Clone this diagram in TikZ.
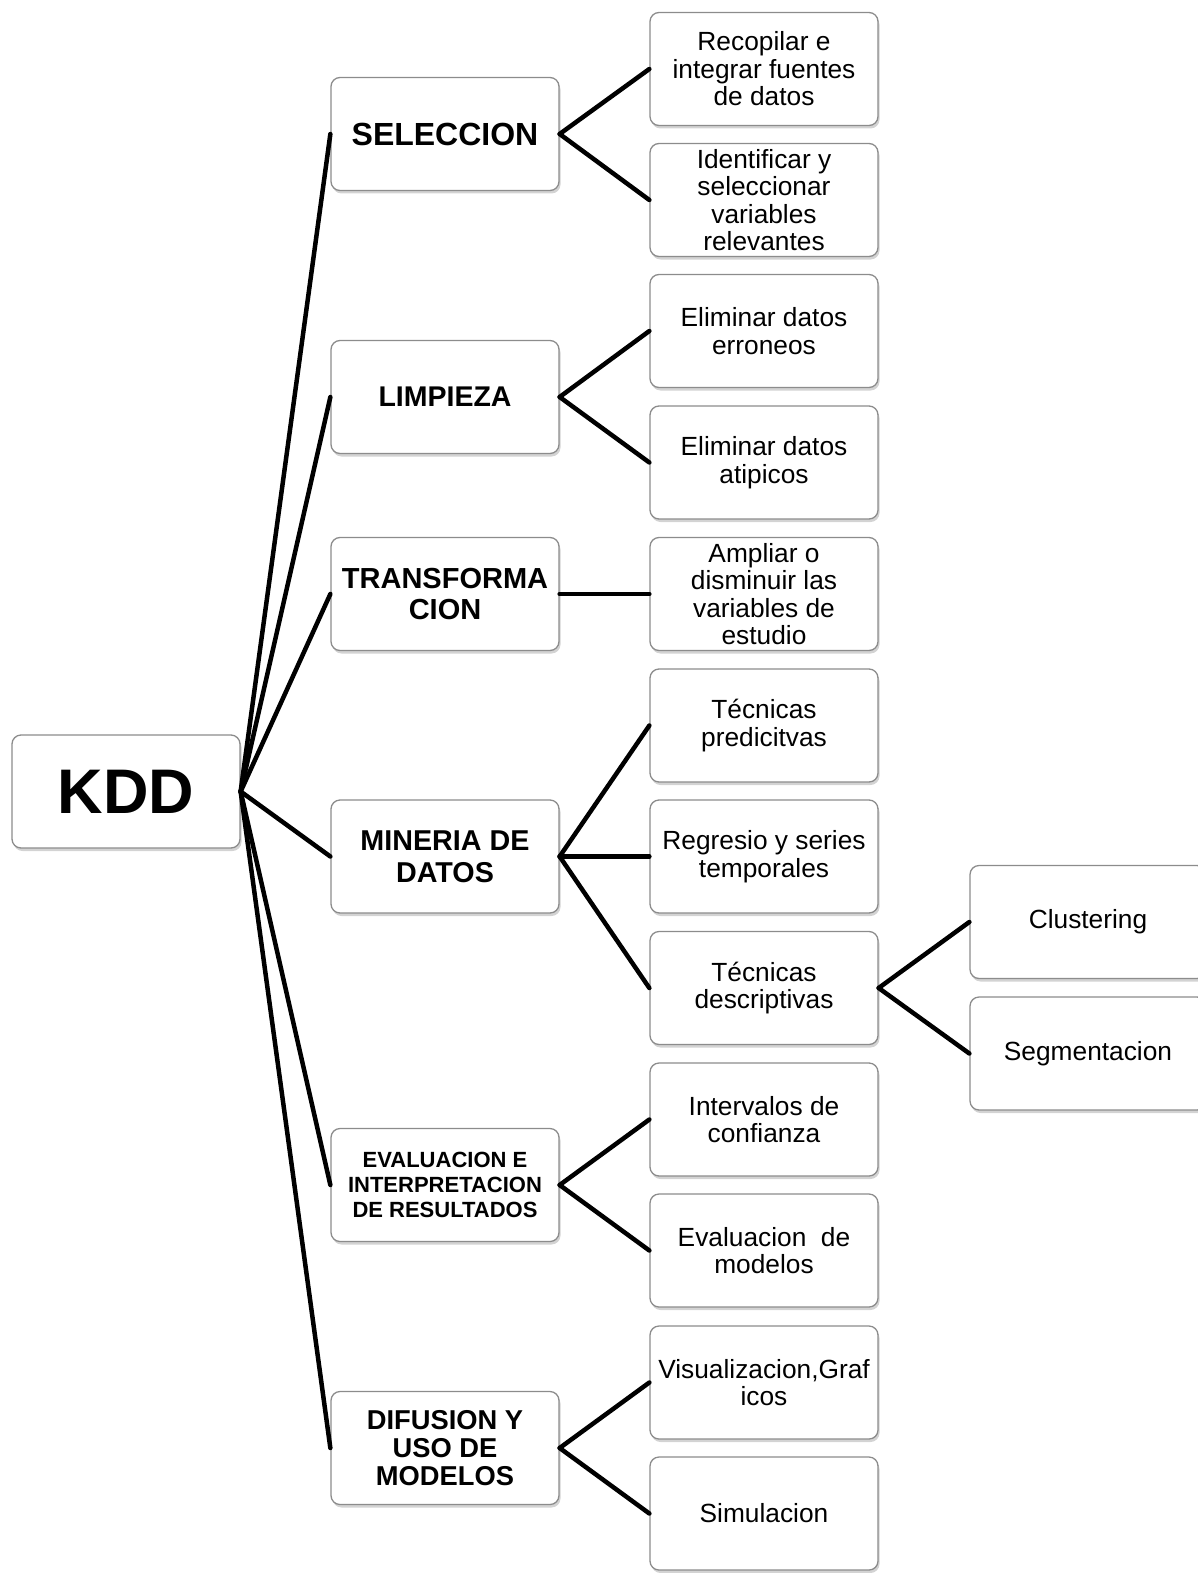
\documentclass[tikz,border=0pt]{standalone}
\usepackage{fontspec}
\setmainfont{Liberation Sans}
\usetikzlibrary{shadows}
\definecolor{bordergray}{RGB}{140,140,140}
\begin{document}
\begin{tikzpicture}[x=1pt,y=-1pt,
  box/.style={draw=bordergray, line width=1.3pt, fill=white, rounded corners=9pt,
    minimum width=228pt, minimum height=113pt, inner sep=0pt, align=center,
    drop shadow={opacity=0.35, shadow xshift=1.5pt, shadow yshift=-3pt}},
  lvtwo/.style={box, font=\fontsize{26.3}{27.5}\selectfont},
  lvone/.style={box, font=\fontsize{29}{31}\selectfont\bfseries},
  conn/.style={line width=4.5pt, line cap=round, black}]
\useasboundingbox (0,0) rectangle (1197,1573);

% root
\node[box, font=\fontsize{63}{66}\selectfont\bfseries] (kdd) at (126,791.5) {KDD};

% level 1
\node[lvone, font=\fontsize{32}{34}\selectfont\bfseries] (sel) at (445,134) {SELECCION};
\node[lvone, font=\fontsize{28.5}{31}\selectfont\bfseries] (lim) at (445,397) {LIMPIEZA};
\node[lvone] (tra) at (445,594) {TRANSFORMA\\CION};
\node[lvone, font=\fontsize{28.7}{32}\selectfont\bfseries] (min) at (445,856.5) {MINERIA DE\\DATOS};
\node[lvone, font=\fontsize{22}{25}\selectfont\bfseries] (eva) at (445,1185) {EVALUACION E\\INTERPRETACION\\DE RESULTADOS};
\node[lvone, font=\fontsize{27.3}{28}\selectfont\bfseries] (dif) at (445,1448) {DIFUSION Y\\USO DE\\MODELOS};

% level 2
\node[lvtwo] (rec) at (764,69) {Recopilar e\\integrar fuentes\\de datos};
\node[lvtwo] (ide) at (764,200) {Identificar y\\seleccionar\\variables\\relevantes};
\node[lvtwo] (err) at (764,331) {Eliminar datos\\erroneos};
\node[lvtwo] (ati) at (764,462.5) {Eliminar datos\\atipicos};
\node[lvtwo] (amp) at (764,594) {Ampliar o\\disminuir las\\variables de\\estudio};
\node[lvtwo] (pre) at (764,725.5) {Técnicas\\predicitvas};
\node[lvtwo] (reg) at (764,856.5) {Regresio y series\\temporales};
\node[lvtwo] (des) at (764,988) {Técnicas\\descriptivas};
\node[lvtwo] (int) at (764,1119.5) {Intervalos de\\confianza};
\node[lvtwo] (evm) at (764,1250.5) {Evaluacion\ \ de\\modelos};
\node[lvtwo] (vis) at (764,1382.5) {Visualizacion,Graf\\icos};
\node[lvtwo] (sim) at (764,1513.5) {Simulacion};

% level 3 (right border runs off the picture)
\node[lvtwo, minimum width=236pt] (clu) at (1088,922) {Clustering};
\node[lvtwo, minimum width=236pt] (seg) at (1088,1053.5) {Segmentacion};

% connectors
\foreach \t in {sel,lim,tra,min,eva,dif}
  \draw[conn] (kdd.east) -- (\t.west);
\draw[conn] (sel.east) -- (rec.west);
\draw[conn] (sel.east) -- (ide.west);
\draw[conn] (lim.east) -- (err.west);
\draw[conn] (lim.east) -- (ati.west);
\draw[conn] (tra.east) -- (amp.west);
\draw[conn] (min.east) -- (pre.west);
\draw[conn] (min.east) -- (reg.west);
\draw[conn] (min.east) -- (des.west);
\draw[conn] (eva.east) -- (int.west);
\draw[conn] (eva.east) -- (evm.west);
\draw[conn] (dif.east) -- (vis.west);
\draw[conn] (dif.east) -- (sim.west);
\draw[conn] (des.east) -- (clu.west);
\draw[conn] (des.east) -- (seg.west);
\end{tikzpicture}
\end{document}
